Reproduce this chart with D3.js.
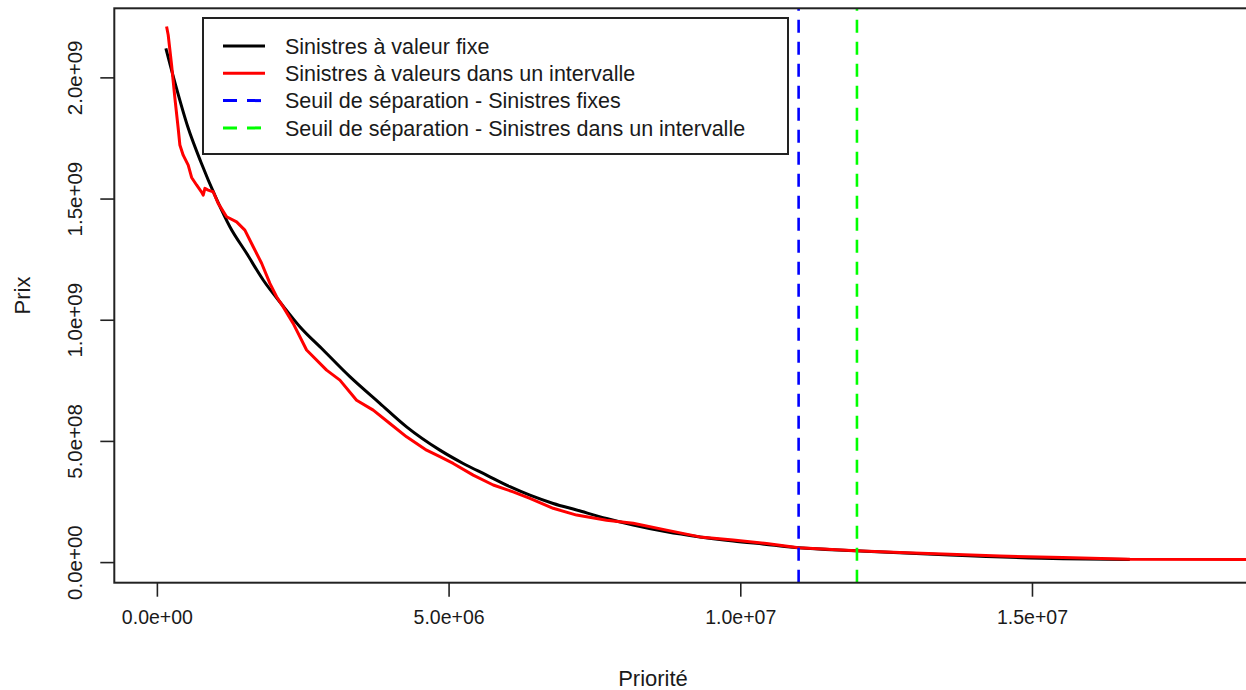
<!DOCTYPE html>
<html>
<head>
<meta charset="utf-8">
<script src="https://cdn.jsdelivr.net/npm/d3@7"></script>
<style>
  html, body { margin: 0; padding: 0; background: #fff; }
  svg { display: block; font-family: "Liberation Sans", Arial, sans-serif; }
</style>
</head>
<body>
<svg id="chart" width="1246" height="690"></svg>
<script>
// Prix en fonction de la priorité — sinistres à valeur fixe
const prioriteFixe = [154e3, 326e3, 531e3, 754e3, 1023e3, 1251e3, 1538e3, 1822e3, 2165e3, 2451e3,
  2851e3, 3308e3, 3822e3, 4280e3, 4851e3, 5250e3, 5651e3, 6051e3, 6394e3, 6793e3,
  7194e3, 7708e3, 8164e3, 8737e3, 9308e3, 9878e3, 10451e3, 10999e3, 11982e3, 13593e3,
  15530e3, 16678e3];
const prixFixe = [2120e6, 1964e6, 1795e6, 1651e6, 1498e6, 1384e6, 1274e6, 1164e6, 1056e6, 971e6,
  875e6, 765e6, 655e6, 558e6, 462e6, 407e6, 359e6, 311e6, 276e6, 242e6,
  215e6, 180e6, 153e6, 125e6, 104e6, 87e6, 73e6, 59e6, 47e6, 29e6,
  14e6, 11e6];

// Sinistres à valeurs dans un intervalle
const prioriteIntervalle = [166e3, 194e3, 252e3, 309e3, 365e3, 394e3, 451e3, 537e3, 595e3, 680e3,
  766e3, 794e3, 823e3, 879e3, 965e3, 1051e3, 1195e3, 1366e3, 1508e3, 1651e3,
  1795e3, 1937e3, 2052e3, 2165e3, 2336e3, 2566e3, 2909e3, 3137e3, 3423e3, 3708e3,
  3994e3, 4280e3, 4623e3, 4851e3, 5079e3, 5422e3, 5765e3, 6107e3, 6394e3, 6793e3,
  7194e3, 7708e3, 8164e3, 8737e3, 9308e3, 9878e3, 10451e3, 10999e3, 11982e3, 12736e3,
  13593e3, 14450e3, 15530e3, 16678e3, 18667e3, 22000e3];
const prixIntervalle = [2210e6, 2175e6, 2051e6, 1913e6, 1790e6, 1721e6, 1679e6, 1638e6, 1587e6, 1556e6,
  1527e6, 1514e6, 1542e6, 1535e6, 1528e6, 1480e6, 1425e6, 1404e6, 1370e6, 1301e6,
  1233e6, 1150e6, 1095e6, 1053e6, 985e6, 875e6, 792e6, 751e6, 668e6, 627e6,
  572e6, 517e6, 462e6, 435e6, 407e6, 359e6, 318e6, 290e6, 263e6, 222e6,
  194e6, 173e6, 160e6, 132e6, 104e6, 91e6, 77e6, 59e6, 47e6, 40e6,
  32e6, 25e6, 19e6, 12e6, 11e6, 8e6];

// Seuils de séparation
const seuils = [11.0e6, 12.0e6];
const seuilColors = ["#0000ff", "#00ff00"];

// Axes
const xTicks = [0, 5e6, 10e6, 15e6];
const yTicks = [0, 5e8, 10e8, 15e8, 20e8];
const xLimits = [-7.3e5, 2.305e7];
const yLimits = [-8.5e7, 2.285e9];

const legendLabels = [
  "Sinistres à valeur fixe",
  "Sinistres à valeurs dans un intervalle",
  "Seuil de séparation - Sinistres fixes",
  "Seuil de séparation - Sinistres dans un intervalle"
];
const legendColors = ["#000000", "#ff0000", "#0000ff", "#00ff00"];
const legendDashed = [false, false, true, true];

// Plot region (the right edge lies past the visible area)
const plot = { left: 114.3, top: 8.3, right: 1501.6, bottom: 582.7 };

const svg = d3.select("#chart");
const x = d3.scaleLinear().domain(xLimits).range([plot.left, plot.right]);
const y = d3.scaleLinear().domain(yLimits).range([plot.bottom, plot.top]);

// Scientific notation with two-digit exponent, e.g. 5.0e+06
function sci(v) {
  if (v === 0) return "0.0e+00";
  const e = Math.floor(Math.log10(Math.abs(v)));
  const m = v / Math.pow(10, e);
  return m.toFixed(1) + "e" + (e < 0 ? "-" : "+") + String(Math.abs(e)).padStart(2, "0");
}

svg.append("defs").append("clipPath").attr("id", "clip")
  .append("rect")
  .attr("x", plot.left).attr("y", plot.top)
  .attr("width", plot.right - plot.left).attr("height", plot.bottom - plot.top);

const marks = svg.append("g").attr("clip-path", "url(#clip)");

const line = d3.line().x(d => x(d[0])).y(d => y(d[1]));

marks.append("path")
  .datum(d3.zip(prioriteFixe, prixFixe))
  .attr("d", line.curve(d3.curveMonotoneX))
  .attr("fill", "none").attr("stroke", "#000").attr("stroke-width", 3)
  .attr("stroke-linejoin", "round");

marks.append("path")
  .datum(d3.zip(prioriteIntervalle, prixIntervalle))
  .attr("d", line.curve(d3.curveLinear))
  .attr("fill", "none").attr("stroke", "#ff0000").attr("stroke-width", 3)
  .attr("stroke-linejoin", "round");

marks.selectAll("line.seuil")
  .data(seuils)
  .join("line")
  .attr("class", "seuil")
  .attr("x1", d => x(d)).attr("x2", d => x(d))
  .attr("y1", plot.bottom).attr("y2", plot.top)
  .attr("stroke", (d, i) => seuilColors[i])
  .attr("stroke-width", 2.6)
  .attr("stroke-dasharray", "13,9");

// Axes
const xAxis = d3.axisBottom(x).tickValues(xTicks).tickFormat(sci).tickSize(14).tickPadding(13);
const gx = svg.append("g").attr("transform", `translate(0,${plot.bottom})`).call(xAxis);
gx.select(".domain").remove();
gx.selectAll(".tick line").attr("stroke", "#222").attr("stroke-width", 1.6);
gx.selectAll(".tick text").attr("font-size", 19.5).attr("fill", "#1a1a1a")
  .attr("font-family", "Liberation Sans, Arial, sans-serif");

const yAxis = d3.axisLeft(y).tickValues(yTicks).tickFormat(sci).tickSize(14);
const gy = svg.append("g").attr("transform", `translate(${plot.left},0)`).call(yAxis);
gy.select(".domain").remove();
gy.selectAll(".tick line").attr("stroke", "#222").attr("stroke-width", 1.6);
gy.selectAll(".tick text")
  .attr("font-size", 20.5).attr("fill", "#1a1a1a")
  .attr("font-family", "Liberation Sans, Arial, sans-serif")
  .attr("x", null).attr("dy", null)
  .attr("text-anchor", "middle")
  .attr("transform", "translate(-32,0) rotate(-90)");

// Frame around the plot region
svg.append("rect")
  .attr("x", plot.left).attr("y", plot.top)
  .attr("width", plot.right - plot.left).attr("height", plot.bottom - plot.top)
  .attr("fill", "none").attr("stroke", "#222").attr("stroke-width", 2);

// Axis titles
svg.append("text")
  .attr("x", 653).attr("y", 686)
  .attr("text-anchor", "middle").attr("font-size", 22).attr("fill", "#1a1a1a")
  .text("Priorité");
svg.append("text")
  .attr("transform", `translate(30,${(plot.top + plot.bottom) / 2}) rotate(-90)`)
  .attr("text-anchor", "middle").attr("font-size", 22).attr("fill", "#1a1a1a")
  .text("Prix");

// Legend
const lg = svg.append("g");
lg.append("rect")
  .attr("x", 203).attr("y", 18).attr("width", 585).attr("height", 136)
  .attr("fill", "#fff").attr("stroke", "#222").attr("stroke-width", 2);
const rowH = 27.3;
legendLabels.forEach((label, i) => {
  const cy = 46 + i * rowH;
  lg.append("line")
    .attr("x1", 223).attr("x2", 265).attr("y1", cy).attr("y2", cy)
    .attr("stroke", legendColors[i]).attr("stroke-width", 3)
    .attr("stroke-dasharray", legendDashed[i] ? "14,10" : null);
  lg.append("text")
    .attr("x", 285).attr("y", cy).attr("dy", "0.36em")
    .attr("font-size", 21.5).attr("fill", "#1a1a1a")
    .text(label);
});
</script>
</body>
</html>
